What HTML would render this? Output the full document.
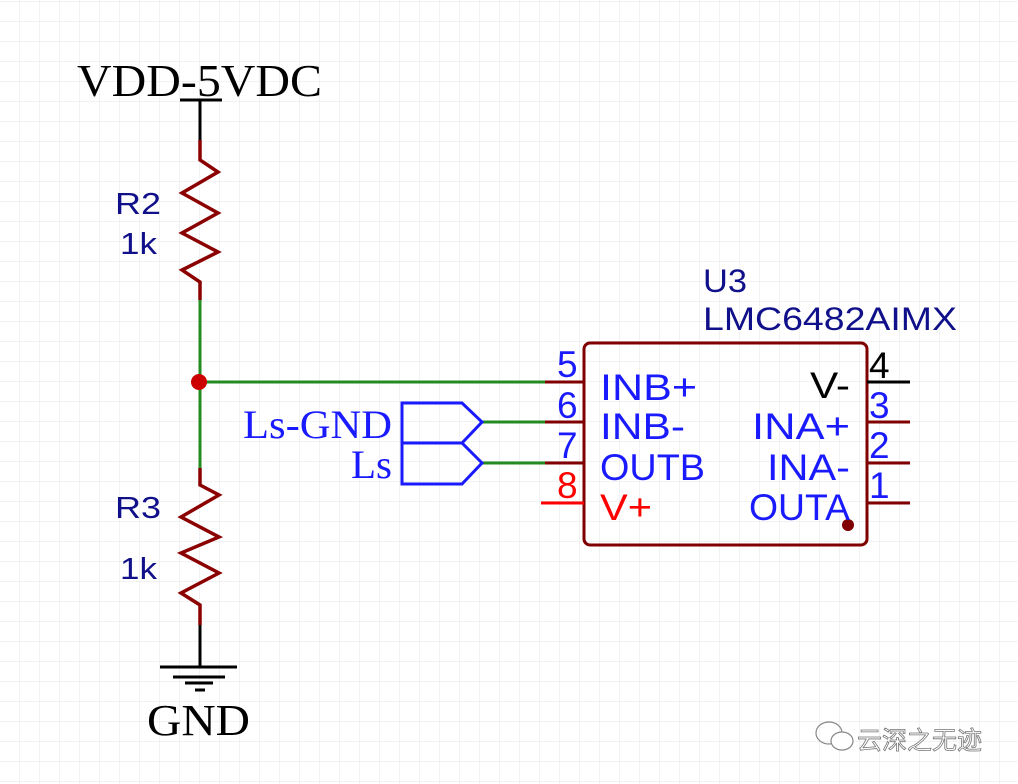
<!DOCTYPE html>
<html><head><meta charset="utf-8"><style>
html,body{margin:0;padding:0;background:#fff;}
svg{display:block;}
</style></head><body>
<svg width="1018" height="784" viewBox="0 0 1018 784" xmlns="http://www.w3.org/2000/svg">
<defs>
<pattern id="g" width="20" height="20" patternUnits="userSpaceOnUse" x="-1" y="1">
<path d="M20 0H0V20" fill="none" stroke="#e6e6e6" stroke-width="1"/>
</pattern>
</defs>
<rect width="1018" height="784" fill="url(#g)"/>
<g fill="none" stroke-linecap="butt">
<path d="M180 100H222" stroke="#000" stroke-width="3"/>
<path d="M200 100V140" stroke="#000" stroke-width="3"/>
<path d="M200 140V160L218 172L182 193L218 213L182 233L218 252L182 270L200 282V300" stroke="#8b0000" stroke-width="3.5"/>
<path d="M200 300V468" stroke="#228b22" stroke-width="3"/>
<path d="M200 382H545" stroke="#228b22" stroke-width="3"/>
<path d="M200 468V485L219 495L181 517L219 537L181 553L219 573L181 593L200 605V625" stroke="#8b0000" stroke-width="3.5"/>
<path d="M200 625V667" stroke="#000" stroke-width="3"/>
<path d="M160 667H237M173 677H225M185 683H213M195 690H205" stroke="#000" stroke-width="3"/>
<rect x="584" y="343" width="283" height="202" rx="6" stroke="#800000" stroke-width="3"/>
<path d="M545 382H584M545 422H584M545 463H584" stroke="#800000" stroke-width="3"/>
<path d="M541 503H584" stroke="#ff0000" stroke-width="3"/>
<path d="M867 382H910" stroke="#000" stroke-width="3"/>
<path d="M867 422H910M867 463H910M867 503H910" stroke="#800000" stroke-width="3"/>
<path d="M482 422H545M482 463H545" stroke="#228b22" stroke-width="3"/>
<path d="M402 403H462L482 422L462 443H402Z" stroke="#1a1aff" stroke-width="3"/>
<path d="M402 443H462L482 463L462 484H402Z" stroke="#1a1aff" stroke-width="3"/>
</g>
<circle cx="199" cy="382" r="8" fill="#cc0000"/>
<circle cx="848" cy="525" r="6" fill="#800000"/>
<g font-family="Liberation Serif, serif">
<text x="77" y="96" font-size="46" fill="#000" textLength="245" lengthAdjust="spacingAndGlyphs">VDD-5VDC</text>
<text x="147" y="735" font-size="44" fill="#000" textLength="103" lengthAdjust="spacingAndGlyphs">GND</text>
<text x="243" y="438" font-size="40" fill="#1a1aff" textLength="149" lengthAdjust="spacingAndGlyphs">Ls-GND</text>
<text x="351" y="478" font-size="40" fill="#1a1aff" textLength="41" lengthAdjust="spacingAndGlyphs">Ls</text>
</g>
<g font-family="Liberation Sans, sans-serif" lengthAdjust="spacingAndGlyphs">
<text x="115" y="214" font-size="31" fill="#10108a" textLength="46" lengthAdjust="spacingAndGlyphs">R2</text>
<text x="120" y="254" font-size="31" fill="#10108a" textLength="37" lengthAdjust="spacingAndGlyphs">1k</text>
<text x="115" y="518" font-size="31" fill="#10108a" textLength="46" lengthAdjust="spacingAndGlyphs">R3</text>
<text x="120" y="579" font-size="31" fill="#10108a" textLength="37" lengthAdjust="spacingAndGlyphs">1k</text>
<text x="703" y="292" font-size="32" fill="#10108a" textLength="44" lengthAdjust="spacingAndGlyphs">U3</text>
<text x="703" y="330" font-size="32" fill="#10108a" textLength="254" lengthAdjust="spacingAndGlyphs">LMC6482AIMX</text>
<g font-size="37" fill="#1a1aff">
<text x="557" y="377">5</text>
<text x="557" y="418">6</text>
<text x="557" y="458">7</text>
<text x="600" y="400" textLength="97" lengthAdjust="spacingAndGlyphs">INB+</text>
<text x="600" y="439" textLength="85" lengthAdjust="spacingAndGlyphs">INB-</text>
<text x="600" y="480" textLength="105" lengthAdjust="spacingAndGlyphs">OUTB</text>
<text x="752" y="439" textLength="98" lengthAdjust="spacingAndGlyphs">INA+</text>
<text x="767" y="480" textLength="83" lengthAdjust="spacingAndGlyphs">INA-</text>
<text x="749" y="520" textLength="101" lengthAdjust="spacingAndGlyphs">OUTA</text>
<text x="869" y="418">3</text>
<text x="869" y="458">2</text>
<text x="869" y="498">1</text>
</g>
<text x="557" y="498" font-size="37" fill="#ff0000">8</text>
<text x="600" y="520" font-size="37" fill="#ff0000" textLength="52" lengthAdjust="spacingAndGlyphs">V+</text>
<text x="810" y="398" font-size="37" fill="#000" textLength="40" lengthAdjust="spacingAndGlyphs">V-</text>
<text x="869" y="378" font-size="37" fill="#000">4</text>
</g>
<g fill="none" stroke="#888" stroke-width="1.2">
<ellipse cx="829" cy="733" rx="13" ry="11"/>
<ellipse cx="842" cy="741" rx="11" ry="9" fill="#fff"/>
</g>
<text x="857" y="749" font-family="Liberation Sans, 'Noto Sans CJK SC', sans-serif" font-size="25" fill="#fff" stroke="#777" stroke-width="0.8">云深之无迹</text>
</svg>
</body></html>
